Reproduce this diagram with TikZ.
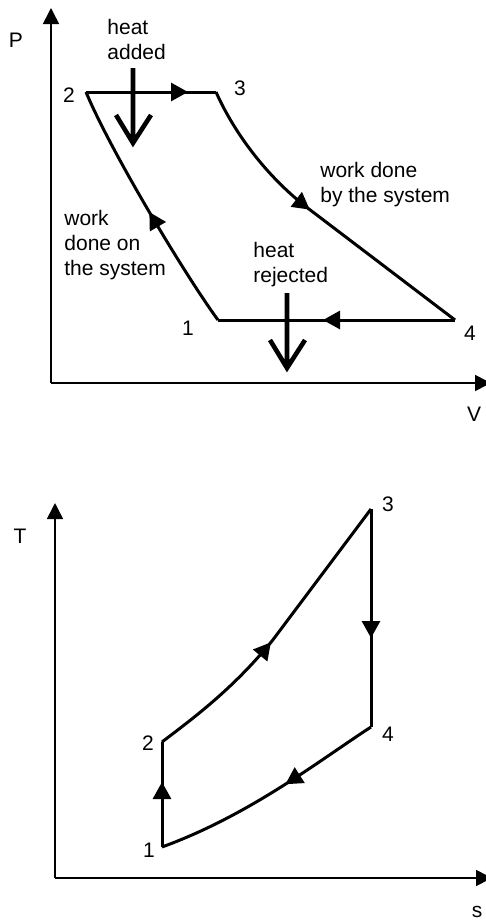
\documentclass[tikz,border=0pt]{standalone}
\usepackage{fontspec}
\setmainfont{Liberation Sans}
\usetikzlibrary{arrows.meta,decorations.markings}

\begin{document}
\begin{tikzpicture}[
  x=0.5pt, y=-0.5pt,
  font=\fontsize{10.5}{12.5}\selectfont,
  ax/.style={line width=0.8pt, -{Triangle[length=8pt,width=8pt]}},
  cyc/.style={line width=1.5pt},
  mid/.style={postaction={decorate, decoration={markings,
      mark=at position #1 with {\arrow{Triangle[length=8.5pt,width=9pt]}}}}},
  heat/.style={line width=2.3pt},
  num/.style={inner sep=0pt},
  txt/.style={inner sep=0pt, align=left, anchor=base west},
]
\useasboundingbox (0,0) rectangle (486,921);

% ============ (a) P-V diagram ============
\coordinate (pvO) at (51,383);
\coordinate (pvP) at (51,8);
\coordinate (pvV) at (491,383);
\draw[ax] (pvO) -- (pvP);
\draw[ax] (pvO) -- (pvV);
\node[num] (labP) at (16,40) {P};
\node[num] (labV) at (474,414) {V};

\coordinate (a1) at (218,320);
\coordinate (a2) at (86,92);
\coordinate (a3) at (216,92);
\coordinate (a4) at (455,320);

\draw[cyc, mid=51pt] (a2) -- (a3);
\draw[cyc, mid=76pt] (a3) .. controls (232,128) and (262,172) .. (305,206) -- (a4);
\draw[cyc, mid=66pt] (a4) -- (a1);
\draw[cyc, mid=64pt] (a1) .. controls (185,275) and (110,150) .. (a2);

\node[num] (n1) at (188,328) {1};
\node[num] (n2) at (69,95) {2};
\node[num] (n3) at (240,88) {3};
\node[num] (n4) at (470,333) {4};

% base anchor sits on the last line
\node[txt] (qin) at (107,59) {heat\\added};
\node[txt] (wout) at (320,202) {work done\\by the system};
\node[txt] (qout) at (253,282) {heat\\rejected};
\node[txt] (win) at (64,275) {work\\done on\\the system};

% heat in / heat out
\coordinate (qinA) at (133,68);
\coordinate (qinB) at (133,143);
\draw[heat] (qinA) -- (qinB) (qinB) ++(-17,-28) -- (qinB) -- ++(18,-28);
\coordinate (qoutA) at (287,293);
\coordinate (qoutB) at (287,368);
\draw[heat] (qoutA) -- (qoutB) (qoutB) ++(-17,-28) -- (qoutB) -- ++(18,-28);

% ============ (b) T-s diagram ============
\coordinate (tsO) at (55,878);
\coordinate (tsT) at (55,503);
\coordinate (tsS) at (492,878);
\draw[ax] (tsO) -- (tsT);
\draw[ax] (tsO) -- (tsS);
\node[num] (labT) at (20,536) {T};
\node[num] (labs) at (477,912) {s};

\coordinate (b1) at (162,847);
\coordinate (b2) at (162,742);
\coordinate (b3) at (371,509);
\coordinate (b4) at (371,727);

\draw[cyc, mid=32.5pt] (b1) -- (b2);
\draw[cyc, mid=74pt] (b2) .. controls (192,719) and (232,690) .. (272,641) -- (b3);
\draw[cyc, mid=64.5pt] (b3) -- (b4);
\draw[cyc, mid=51.5pt] (b4) .. controls (320,760) and (250,815) .. (b1);

\node[num] (m1) at (149,850) {1};
\node[num] (m2) at (148,743) {2};
\node[num] (m3) at (388,504) {3};
\node[num] (m4) at (388,734) {4};

\end{tikzpicture}
\end{document}
